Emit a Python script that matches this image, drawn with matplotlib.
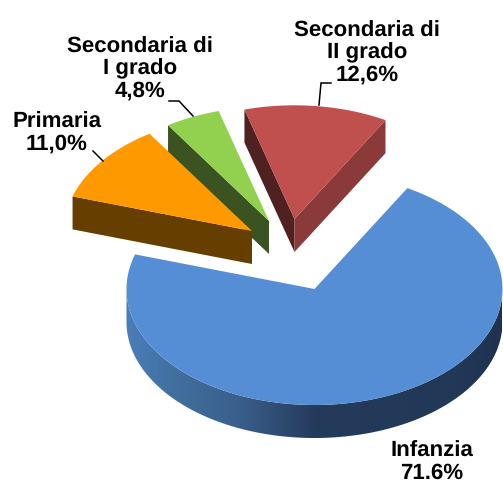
import numpy as np
import matplotlib
matplotlib.use("Agg")
import matplotlib.pyplot as plt
from matplotlib.patches import Polygon
from matplotlib.colors import LinearSegmentedColormap

plt.rcParams["font.family"] = ["Liberation Sans", "DejaVu Sans"]
plt.rcParams["text.hinting"] = "no_hinting"

# clockwise from the start angle
categories = ["Infanzia", "Primaria", "Secondaria di\nI grado", "Secondaria di\nII grado"]
shares = [71.6, 11.0, 4.8, 12.6]
share_labels = ["71.6%", "11,0%", "4,8%", "12,6%"]

start_angle = 60.4
rx, ry = 188, 116
depth = 33

# pixel position of each slice's apex (explosion) and its radius scale
centers = [(314.5, 290), (252, 232), (269, 222), (294.5, 220)]
scales = [1.0, 1.0, 0.985, 0.98]
top_colors = ["#558ed5", "#ff9900", "#92d050", "#c0504d"]
label_pos = [(432, 462), (57, 133), (140, 69), (367, 53)]
leaders = [
    None,
    [(93, 152), (103, 162)],
    [(169, 102), (179, 102), (193, 117)],
    [(331, 84), (321, 84), (319, 106)],
]


def rim(center, deg, scale=1.0):
    rad = np.radians(deg)
    return np.column_stack(
        [center[0] + scale * rx * np.cos(rad), center[1] - scale * ry * np.sin(rad)]
    )


def cut_face(ax, center, deg, scale, color, zorder):
    p = rim(center, np.array([deg]), scale)[0]
    pts = [center, tuple(p), (p[0], p[1] + depth), (center[0], center[1] + depth)]
    ax.add_patch(Polygon(pts, closed=True, fc=color, ec="none", zorder=zorder))


fig = plt.figure(figsize=(5.03, 4.85), dpi=100)
ax = fig.add_axes([0, 0, 1, 1])
ax.set_xlim(0, 503)
ax.set_ylim(485, 0)
ax.axis("off")

# slice angles
ends = start_angle - np.cumsum(shares) * 3.6
starts = np.r_[start_angle, ends[:-1]]

# blue outer wall with the left to right gradient
c = centers[0]
arc = rim(c, np.linspace(180, 360, 200))
wall = np.vstack([arc, arc[::-1] + [0, depth]])
wall_patch = Polygon(wall, closed=True, fc="none", ec="none")
ax.add_patch(wall_patch)
cmap = LinearSegmentedColormap.from_list(
    "wall",
    [(0, "#4a7ebb"), (0.12, "#41709f"), (0.3, "#3a5f8c"), (0.5, "#253b5c"), (0.88, "#223857"), (1, "#1f3350")],
)
im = ax.imshow(
    np.linspace(0, 1, 256).reshape(1, -1),
    cmap=cmap,
    extent=(c[0] - rx, c[0] + rx, c[1] + ry + depth, c[1]),
    aspect="auto",
    zorder=1,
)
im.set_clip_path(wall_patch)
ax.set_xlim(0, 503)
ax.set_ylim(485, 0)

# cut faces of the exploded slices
cut_face(ax, centers[3], starts[3], scales[3], "#4f2120", 2)
cut_face(ax, centers[3], ends[3] + 360, scales[3], "#8a3b39", 2)
cut_face(ax, centers[2], starts[2], scales[2], "#3a5320", 4)
cut_face(ax, centers[1], starts[1], scales[1], "#663f00", 6)

# top faces
zorders = [8, 7, 5, 3]
for i in range(len(shares)):
    arc = rim(centers[i], np.linspace(starts[i], ends[i], 200), scales[i])
    pts = np.vstack([[centers[i]], arc])
    ax.add_patch(Polygon(pts, closed=True, fc=top_colors[i], ec="none", zorder=zorders[i]))

# labels and leader lines
for i in range(len(shares)):
    ax.text(
        label_pos[i][0],
        label_pos[i][1],
        f"{categories[i]}\n{share_labels[i]}",
        ha="center",
        va="center",
        ma="center",
        fontsize=16.0,
        fontweight="bold",
        color="black",
        linespacing=1.1,
        zorder=10,
    )
    if leaders[i] is not None:
        xs, ys = zip(*leaders[i])
        ax.plot(xs, ys, color="black", lw=1.1, zorder=9, solid_joinstyle="miter")

fig.savefig("out.png", dpi=100)
